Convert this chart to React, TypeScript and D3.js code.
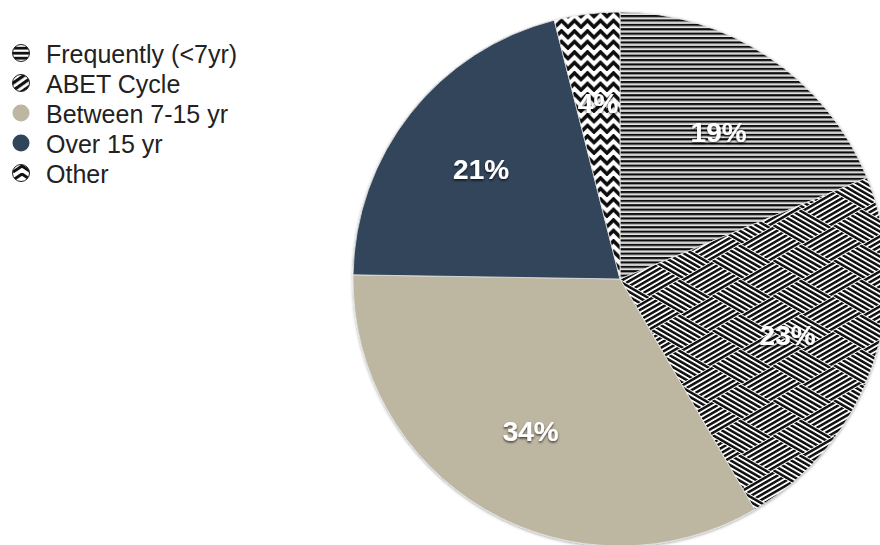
import React from "react";
import * as d3 from "d3";

const categories = ["Frequently (<7yr)", "ABET Cycle", "Between 7-15 yr", "Over 15 yr", "Other"];
const values = [19, 23, 34, 21, 4];
const labels = ["19%", "23%", "34%", "21%", "4%"];

const W = 880;
const H = 545;
const CX = 620;
const CY = 279;
const R = 267;
const LABEL_R = 177;

const fills = ["url(#pFreq)", "url(#pAbet)", "#bdb6a1", "#30455a", "url(#pOther)"];
const legendFills = ["url(#lFreq)", "url(#lAbet)", "#bdb6a1", "#30455a", "url(#lOther)"];

const S = 35; // weave cell size (pattern space)
const STEP = 5;

function weaveCell(x0: number, y0: number, horizontal: boolean, key: string) {
  const out = [];
  for (let k = 0; k < S / STEP; k++) {
    const off = k * STEP + 1.0;
    out.push(
      horizontal ? (
        <rect key={key + k} x={x0} y={y0 + off} width={S} height={2.9} fill="#111" />
      ) : (
        <rect key={key + k} x={x0 + off} y={y0} width={2.9} height={S} fill="#111" />
      )
    );
  }
  return out;
}

export default function App() {
  const pie = d3.pie<number>().sort(null).value((d) => d)(values);
  const arc = d3.arc<d3.PieArcDatum<number>>().innerRadius(0).outerRadius(R);
  const labelArc = d3.arc<d3.PieArcDatum<number>>().innerRadius(LABEL_R).outerRadius(LABEL_R);
  const yLeg = d3.scaleLinear().domain([0, 1]).range([53, 83]);

  return (
    <svg width={W} height={H} style={{ position: "absolute", left: 0, top: 0 }}>
      <defs>
        <pattern id="pFreq" patternUnits="userSpaceOnUse" width={10} height={4.4}>
          <rect width={10} height={4.4} fill="#fff" />
          <rect y={0} width={10} height={2.2} fill="#0a0a0a" />
          <rect y={3.1} width={10} height={0.6} fill="#999" />
        </pattern>
        <pattern
          id="pAbet"
          patternUnits="userSpaceOnUse"
          width={S * 2}
          height={S * 2}
          patternTransform="matrix(0.866,-0.5,0.866,0.5,0,0)"
        >
          <rect width={S * 2} height={S * 2} fill="#fff" />
          {weaveCell(0, 0, true, "a")}
          {weaveCell(S, 0, false, "b")}
          {weaveCell(0, S, false, "c")}
          {weaveCell(S, S, true, "d")}
        </pattern>
        <pattern id="pOther" patternUnits="userSpaceOnUse" x={0} y={2} width={13} height={10.5}>
          <rect width={13} height={10.5} fill="#fff" />
          <path d="M-6.5,2 L0,8.5 L6.5,2 L13,8.5 L19.5,2" fill="none" stroke="#111" strokeWidth={3.6} />
        </pattern>
        <pattern id="lFreq" patternUnits="userSpaceOnUse" x={0} y={-1} width={20} height={5}>
          <rect width={20} height={5} fill="#111" />
          <rect y={2.6} width={20} height={2.2} fill="#fff" />
        </pattern>
        <pattern id="lAbet" patternUnits="userSpaceOnUse" width={6} height={6} patternTransform="rotate(-35)">
          <rect width={6} height={6} fill="#fff" />
          <rect width={6} height={3.2} fill="#111" />
        </pattern>
        <pattern id="lOther" patternUnits="userSpaceOnUse" x={13} y={0} width={18} height={8}>
          <rect width={18} height={8} fill="#fff" />
          <path d="M0,7 L9,1 L18,7" fill="none" stroke="#111" strokeWidth={3} />
        </pattern>
        <filter id="txtShadow" x="-20%" y="-20%" width="140%" height="160%">
          <feDropShadow dx={0} dy={1.5} stdDeviation={1.2} floodColor="#000" floodOpacity={0.7} />
        </filter>
        <filter id="pieShadow" x="-5%" y="-5%" width="110%" height="110%">
          <feDropShadow dx={0} dy={1} stdDeviation={1.5} floodColor="#000" floodOpacity={0.35} />
        </filter>
      </defs>

      <g transform={`translate(${CX},${CY})`}>
        <g filter="url(#pieShadow)">
          {pie.map((d, i) => (
            <path key={categories[i]} d={arc(d) || ""} fill={fills[i]} stroke="#e6e6e6" strokeWidth={0.8} />
          ))}
        </g>
        {pie.map((d, i) => {
          const [x, y] = labelArc.centroid(d);
          return (
            <text
              key={labels[i]}
              x={x}
              y={y}
              textAnchor="middle"
              dominantBaseline="central"
              fill="#fff"
              fontFamily="'Liberation Sans', Arial, sans-serif"
              fontWeight="bold"
              fontSize={28}
              filter="url(#txtShadow)"
            >
              {labels[i]}
            </text>
          );
        })}
      </g>

      <g>
        {categories.map((c, i) => (
          <g key={c} transform={`translate(0,${yLeg(i)})`}>
            <circle cx={21} cy={0} r={8.5} fill={legendFills[i]} stroke={i < 2 || i === 4 ? "#222" : "none"} strokeWidth={1} />
            <text
              x={46}
              y={1}
              dominantBaseline="central"
              fill="#222"
              fontFamily="'Liberation Sans', Arial, sans-serif"
              fontSize={25}
            >
              {c}
            </text>
          </g>
        ))}
      </g>
    </svg>
  );
}
